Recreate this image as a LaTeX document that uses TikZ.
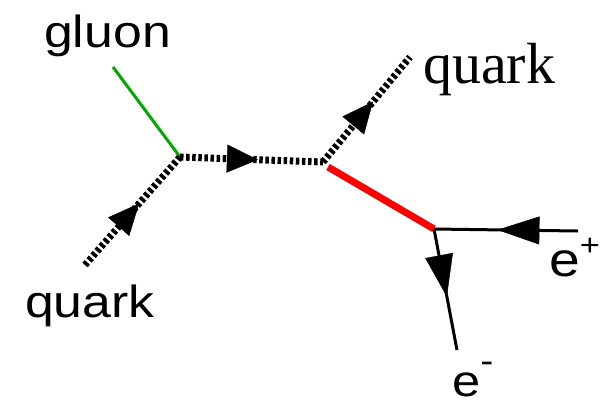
\documentclass[tikz,border=0pt]{standalone}
\usepackage{fontspec}
\setmainfont{Liberation Sans}
\newfontfamily\timesfont{Liberation Serif}
\usetikzlibrary{arrows.meta,decorations.markings}
\definecolor{gluongreen}{RGB}{0,170,0}
\definecolor{photonred}{RGB}{255,0,0}
\tikzset{
  quarkline/.style={line width=7pt, dash pattern=on 3.5pt off 2.6pt},
  gluonline/.style={gluongreen, line width=3pt},
  bosonline/.style={photonred, line width=7pt},
  leptonline/.style={line width=3pt},
  midarrow/.style={postaction={decorate, decoration={markings,
     mark=at position #1 with {\arrow[solid,line width=0.4pt]{Triangle[length=31pt,width=28pt]}}}}},
  bigarrow/.style={postaction={decorate, decoration={markings,
     mark=at position #1 with {\arrow[solid,line width=0.4pt]{Triangle[length=42pt,width=28pt]}}}}},
  lbl/.style={inner sep=0pt, anchor=base west},
}
\begin{document}
\begin{tikzpicture}[x=1pt,y=-1pt]
\useasboundingbox (0,0) rectangle (601,405);
% vertices and free ends
\coordinate (qin) at (85,265);
\coordinate (v1) at (180,157);
\coordinate (g) at (113,67);
\coordinate (v2) at (323,162);
\coordinate (qout) at (410,57);
\coordinate (v3) at (434,229);
\coordinate (ep) at (578,231);
\coordinate (em) at (457,350);
% connectors
\draw[gluonline] (g) -- (v1);
\draw[quarkline, midarrow=0.57] (qin) -- (v1);
\draw[quarkline, midarrow=0.545] (v1) -- (v2);
\draw[quarkline, midarrow=0.575] (v2) -- (qout);
\draw[bosonline] (328,167) -- (v3);
\draw[leptonline, bigarrow=0.56] (ep) -- (v3);
\draw[leptonline, bigarrow=0.56] (v3) -- (em);
% labels
\node[lbl] (tg) at (44,47) {\scalebox{1.15}[1]{\fontsize{45}{50}\selectfont gluon}};
\node[lbl] (tq1) at (25,317) {\scalebox{1.15}[1]{\fontsize{45}{50}\selectfont quark}};
\node[lbl] (tq2) at (423,83) {\fontsize{58}{60}\selectfont\timesfont quark};
\node[lbl] (tep) at (549,276) {\scalebox{1.15}[1]{\fontsize{48}{50}\selectfont e\raisebox{21pt}{\fontsize{30}{30}\selectfont +}}};
\node[lbl] (tem) at (452,396) {\scalebox{1.15}[1]{\fontsize{44}{50}\selectfont e\raisebox{24pt}{\fontsize{34}{34}\selectfont -}}};
\end{tikzpicture}
\end{document}
